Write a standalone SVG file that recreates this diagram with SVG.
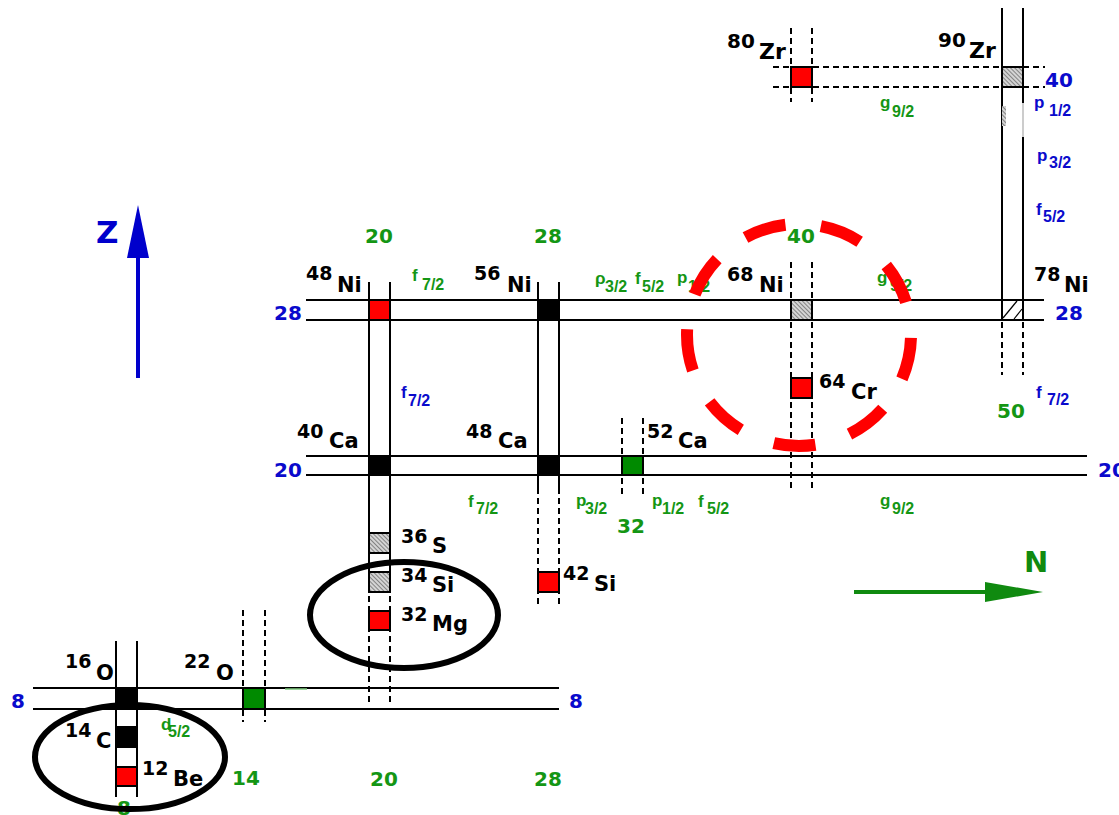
<svg xmlns="http://www.w3.org/2000/svg" width="1119" height="815" viewBox="0 0 1119 815">
<style>
.ln{stroke:#000;stroke-width:2;fill:none}
.dl{stroke:#000;stroke-width:2;fill:none;stroke-dasharray:6 4}
.bx{stroke:#000;stroke-width:2}
.red{fill:#ff0000}.blk{fill:#000}.grn{fill:#008a00}.hat{fill:url(#hatch)}
.nuc{font-family:"DejaVu Sans","Liberation Sans",sans-serif;font-weight:bold;fill:#000}
.m{font-size:19px}.e{font-size:21px}
.num{font-family:"DejaVu Sans","Liberation Sans",sans-serif;font-weight:bold;font-size:20px}
.b{fill:#0a0acc}.g{fill:#149614}
.sp{font-family:"Liberation Sans",Arial,sans-serif;font-weight:bold;font-size:17px}
.sub{font-size:16px}
.ell{fill:none;stroke:#000;stroke-width:6}
</style>
<defs>
<pattern id="hatch" patternUnits="userSpaceOnUse" width="3" height="3" patternTransform="rotate(-45)">
<rect width="3" height="3" fill="#d4d4d4"/>
<line x1="0" y1="0" x2="0" y2="3" stroke="#333" stroke-width="1"/>
</pattern>
</defs>
<rect width="1119" height="815" fill="#fff"/>

<g id="connectors">
<line class="ln" x1="33" y1="688" x2="559" y2="688"/>
<line class="ln" x1="33" y1="709" x2="559" y2="709"/>
<line class="ln" x1="306" y1="456" x2="1087" y2="456"/>
<line class="ln" x1="306" y1="475" x2="1087" y2="475"/>
<line class="ln" x1="306" y1="300" x2="1044" y2="300"/>
<line class="ln" x1="306" y1="320" x2="1044" y2="320"/>
<line class="dl" x1="773" y1="67" x2="1045" y2="67"/>
<line class="dl" x1="773" y1="87" x2="1045" y2="87"/>
<line class="ln" x1="116" y1="641" x2="116" y2="797"/>
<line class="ln" x1="137" y1="641" x2="137" y2="797"/>
<line class="dl" x1="243" y1="610" x2="243" y2="722"/>
<line class="dl" x1="265" y1="610" x2="265" y2="722"/>
<line class="ln" x1="369" y1="282" x2="369" y2="592"/>
<line class="ln" x1="390" y1="282" x2="390" y2="592"/>
<line class="dl" x1="369" y1="596" x2="369" y2="706"/>
<line class="dl" x1="390" y1="596" x2="390" y2="706"/>
<line class="ln" x1="538" y1="282" x2="538" y2="494"/>
<line class="ln" x1="559" y1="282" x2="559" y2="494"/>
<line class="dl" x1="538" y1="498" x2="538" y2="607"/>
<line class="dl" x1="559" y1="498" x2="559" y2="607"/>
<line class="dl" x1="622" y1="418" x2="622" y2="494"/>
<line class="dl" x1="643" y1="418" x2="643" y2="494"/>
<line class="dl" x1="791" y1="262" x2="791" y2="492"/>
<line class="dl" x1="812" y1="262" x2="812" y2="492"/>
<line class="dl" x1="791" y1="28" x2="791" y2="102"/>
<line class="dl" x1="812" y1="28" x2="812" y2="102"/>
<line class="ln" x1="1002" y1="8" x2="1002" y2="300"/>
<line class="ln" x1="1023" y1="8" x2="1023" y2="103"/>
<line x1="1023" y1="103" x2="1023" y2="137" stroke="#999" stroke-width="1"/>
<line class="ln" x1="1023" y1="137" x2="1023" y2="300"/>
<line class="dl" x1="1002" y1="322" x2="1002" y2="375"/>
<line class="dl" x1="1023" y1="322" x2="1023" y2="375"/>
<line x1="285" y1="689" x2="307" y2="689" stroke="#7cc87c" stroke-width="1.5"/>
</g>

<g id="ni48"><rect class="bx red" x="369" y="300" width="21" height="20"/>
<text class="nuc"><tspan class="m" x="306" y="280">48</tspan><tspan class="e" x="337" y="292">Ni</tspan></text></g>
<g id="ni56"><rect class="bx blk" x="538" y="300" width="21" height="20"/>
<text class="nuc"><tspan class="m" x="474" y="280">56</tspan><tspan class="e" x="507" y="292">Ni</tspan></text></g>
<g id="ni68"><rect class="bx hat" x="791" y="300" width="21" height="20"/>
<text class="nuc"><tspan class="m" x="727" y="281">68</tspan><tspan class="e" x="759" y="292">Ni</tspan></text></g>
<g id="ni78"><rect x="1002" y="300" width="21" height="20" fill="#fff" stroke="#000" stroke-width="2"/>
<line x1="1003" y1="318" x2="1017" y2="301" stroke="#000" stroke-width="1.2"/>
<line x1="1014" y1="319" x2="1022" y2="309" stroke="#000" stroke-width="1.2"/>
<text class="nuc"><tspan class="m" x="1034" y="281">78</tspan><tspan class="e" x="1064" y="292">Ni</tspan></text></g>
<g id="cr64"><rect class="bx red" x="791" y="378" width="21" height="20"/>
<text class="nuc"><tspan class="m" x="819" y="388">64</tspan><tspan class="e" x="851" y="399">Cr</tspan></text></g>
<g id="ca40"><rect class="bx blk" x="369" y="456" width="21" height="19"/>
<text class="nuc"><tspan class="m" x="297" y="438">40</tspan><tspan class="e" x="329" y="448">Ca</tspan></text></g>
<g id="ca48"><rect class="bx blk" x="538" y="456" width="21" height="19"/>
<text class="nuc"><tspan class="m" x="466" y="438">48</tspan><tspan class="e" x="498" y="448">Ca</tspan></text></g>
<g id="ca52"><rect class="bx grn" x="622" y="456" width="21" height="19"/>
<text class="nuc"><tspan class="m" x="647" y="438">52</tspan><tspan class="e" x="678" y="448">Ca</tspan></text></g>
<g id="s36"><rect class="bx hat" x="369" y="533" width="21" height="20"/>
<text class="nuc"><tspan class="m" x="401" y="543">36</tspan><tspan class="e" x="432" y="553">S</tspan></text></g>
<g id="si34"><rect class="bx hat" x="369" y="572" width="21" height="20"/>
<text class="nuc"><tspan class="m" x="401" y="582">34</tspan><tspan class="e" x="432" y="592">Si</tspan></text></g>
<g id="mg32"><rect class="bx red" x="369" y="611" width="21" height="19"/>
<text class="nuc"><tspan class="m" x="401" y="621">32</tspan><tspan class="e" x="432" y="631">Mg</tspan></text></g>
<g id="si42"><rect class="bx red" x="538" y="572" width="21" height="20"/>
<text class="nuc"><tspan class="m" x="563" y="580">42</tspan><tspan class="e" x="594" y="591">Si</tspan></text></g>
<g id="o16"><rect class="bx blk" x="116" y="688" width="21" height="21"/>
<text class="nuc"><tspan class="m" x="65" y="668">16</tspan><tspan class="e" x="96" y="680">O</tspan></text></g>
<g id="o22"><rect class="bx grn" x="243" y="688" width="22" height="21"/>
<text class="nuc"><tspan class="m" x="184" y="668">22</tspan><tspan class="e" x="216" y="680">O</tspan></text></g>
<g id="c14"><rect class="bx blk" x="116" y="727" width="21" height="20"/>
<text class="nuc"><tspan class="m" x="65" y="737">14</tspan><tspan class="e" x="96" y="748">C</tspan></text></g>
<g id="be12"><rect class="bx red" x="116" y="767" width="21" height="19"/>
<text class="nuc"><tspan class="m" x="142" y="775">12</tspan><tspan class="e" x="173" y="786">Be</tspan></text></g>
<g id="zr80"><rect class="bx red" x="791" y="67" width="21" height="20"/>
<text class="nuc"><tspan class="m" x="727" y="48" style="font-size:20px">80</tspan><tspan class="e" x="759" y="59" style="font-size:22px">Zr</tspan></text></g>
<g id="zr90"><rect class="bx hat" x="1002" y="67" width="21" height="20"/>
<rect x="1002" y="106" width="4" height="20" fill="url(#hatch)"/>
<text class="nuc"><tspan class="m" x="938" y="47" style="font-size:20px">90</tspan><tspan class="e" x="969" y="58" style="font-size:22px">Zr</tspan></text></g>

<g id="magic-numbers">
<text class="num b" x="1045" y="87">40</text>
<text class="num b" x="274" y="320">28</text>
<text class="num b" x="1055" y="320">28</text>
<text class="num b" x="274" y="477">20</text>
<text class="num b" x="1098" y="477">20</text>
<text class="num b" x="11" y="708">8</text>
<text class="num b" x="569" y="708">8</text>
<text class="num g" x="365" y="243">20</text>
<text class="num g" x="534" y="243">28</text>
<text class="num g" x="787" y="243">40</text>
<text class="num g" x="997" y="418">50</text>
<text class="num g" x="617" y="533">32</text>
<text class="num g" x="232" y="785">14</text>
<text class="num g" x="370" y="786">20</text>
<text class="num g" x="534" y="786">28</text>
<text class="num g" x="117" y="815">8</text>
</g>

<g id="orbitals">
<text class="sp g" x="880" y="108">g<tspan class="sub" x="892" y="117">9/2</tspan></text>
<text class="sp b" x="1034" y="108">p<tspan class="sub" x="1049" y="116">1/2</tspan></text>
<text class="sp b" x="1037" y="161">p<tspan class="sub" x="1049" y="168">3/2</tspan></text>
<text class="sp b" x="1036" y="215">f<tspan class="sub" x="1043" y="222">5/2</tspan></text>
<text class="sp g" x="412" y="281">f<tspan class="sub" x="422" y="290">7/2</tspan></text>
<text class="sp g" x="595" y="284">ρ<tspan class="sub" x="605" y="292">3/2</tspan></text>
<text class="sp g" x="635" y="284">f<tspan class="sub" x="642" y="292">5/2</tspan></text>
<text class="sp g" x="677" y="283">p<tspan class="sub" x="688" y="292">1/2</tspan></text>
<text class="sp g" x="877" y="283">g<tspan class="sub" x="890" y="291">9/2</tspan></text>
<text class="sp b" x="401" y="398">f<tspan class="sub" x="408" y="406">7/2</tspan></text>
<text class="sp b" x="1036" y="398">f<tspan class="sub" x="1047" y="405">7/2</tspan></text>
<text class="sp g" x="468" y="507">f<tspan class="sub" x="476" y="514">7/2</tspan></text>
<text class="sp g" x="576" y="506">p<tspan class="sub" x="585" y="514">3/2</tspan></text>
<text class="sp g" x="652" y="506">p<tspan class="sub" x="662" y="514">1/2</tspan></text>
<text class="sp g" x="698" y="507">f<tspan class="sub" x="707" y="514">5/2</tspan></text>
<text class="sp g" x="880" y="506">g<tspan class="sub" x="892" y="514">9/2</tspan></text>
<text class="sp g" x="161" y="730">d<tspan class="sub" x="168" y="737">5/2</tspan></text>
</g>

<g id="ellipse-mg"><ellipse class="ell" cx="404" cy="615" rx="94" ry="53"/></g>
<g id="ellipse-be"><ellipse class="ell" cx="130" cy="757" rx="95" ry="52"/></g>
<g id="red-circle"><ellipse cx="799" cy="335" rx="112" ry="111" fill="none" stroke="#ff0000" stroke-width="12" stroke-dasharray="42 35.7" stroke-dashoffset="74.7"/></g>

<g id="z-axis">
<line x1="138" y1="378" x2="138" y2="250" stroke="#0000cc" stroke-width="4"/>
<polygon points="138,205 127,258 149,258" fill="#0000cc"/>
<text x="96" y="243" style="font-family:'DejaVu Sans',sans-serif;font-weight:bold;font-size:31px" fill="#0000cc">Z</text>
</g>
<g id="n-axis">
<line x1="854" y1="592" x2="990" y2="592" stroke="#108a10" stroke-width="4"/>
<polygon points="1043,592 985,582 985,602" fill="#108a10"/>
<text x="1024" y="572" style="font-family:'DejaVu Sans',sans-serif;font-weight:bold;font-size:29px" fill="#108a10">N</text>
</g>
</svg>
